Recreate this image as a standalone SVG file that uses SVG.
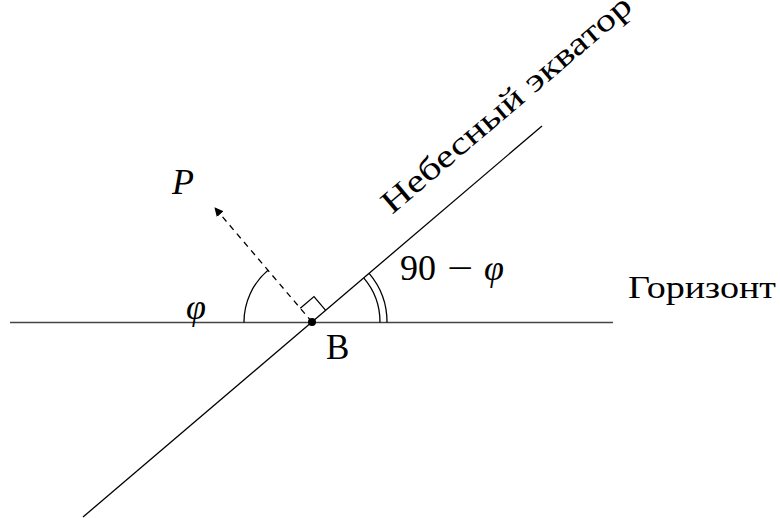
<svg xmlns="http://www.w3.org/2000/svg" width="780" height="518" viewBox="0 0 780 518">
<style>
.ln{stroke:#000;stroke-width:1.3;fill:none}
.hz{stroke:#444;stroke-width:1.5;fill:none}
text{font-family:'Liberation Serif','DejaVu Serif',serif;fill:#000}
.it{font-style:italic}
</style>
<defs>
<marker id="ah" viewBox="0 0 10 10" refX="9" refY="5" markerWidth="9" markerHeight="9" markerUnits="userSpaceOnUse" orient="auto">
<path d="M0,0 L10,5 L0,10 z" fill="#000"/>
</marker>
</defs>
<rect width="780" height="518" fill="#fff"/>
<g id="connectors">
<line id="horizon" class="hz" x1="10" y1="322.5" x2="613" y2="322.5"/>
<line id="equator" class="ln" x1="83" y1="517" x2="542" y2="126"/>
<line id="axisP" class="ln" x1="312" y1="322" x2="215" y2="208" stroke-dasharray="6,5" marker-end="url(#ah)"/>
<path id="arcPhi" class="ln" d="M244,322.5 A68,68 0 0 1 268,270.2"/>
<path id="arc90a" class="ln" d="M380,322.5 A68,68 0 0 0 363.7,277.9"/>
<path id="arc90b" class="ln" d="M387,322.5 A75,75 0 0 0 369.1,273.4"/>
<path id="rightAngle" class="ln" d="M325.7,310.3 L314,296.6 L300.3,308.3"/>
</g>
<g id="nodeB">
<circle cx="312" cy="322" r="4" fill="#000"/>
<text x="326" y="359" font-size="35">B</text>
</g>
<g id="nodeP">
<text class="it" x="172" y="194" font-size="36">P</text>
</g>
<g id="labelPhi">
<text class="it" x="186" y="319" font-size="36">φ</text>
</g>
<g id="label90">
<text x="400" y="280" font-size="36" textLength="36" lengthAdjust="spacingAndGlyphs">90</text>
<text x="447" y="280" font-size="36" textLength="26" lengthAdjust="spacingAndGlyphs">−</text>
<text class="it" x="484" y="280" font-size="36">φ</text>
</g>
<g id="labelHorizon">
<text x="628" y="298" font-size="31" textLength="148" lengthAdjust="spacingAndGlyphs">Горизонт</text>
</g>
<g id="labelEquator">
<text x="392" y="215" font-size="32" textLength="318" lengthAdjust="spacingAndGlyphs" transform="rotate(-40.4 392 215)">Небесный экватор</text>
</g>
</svg>
